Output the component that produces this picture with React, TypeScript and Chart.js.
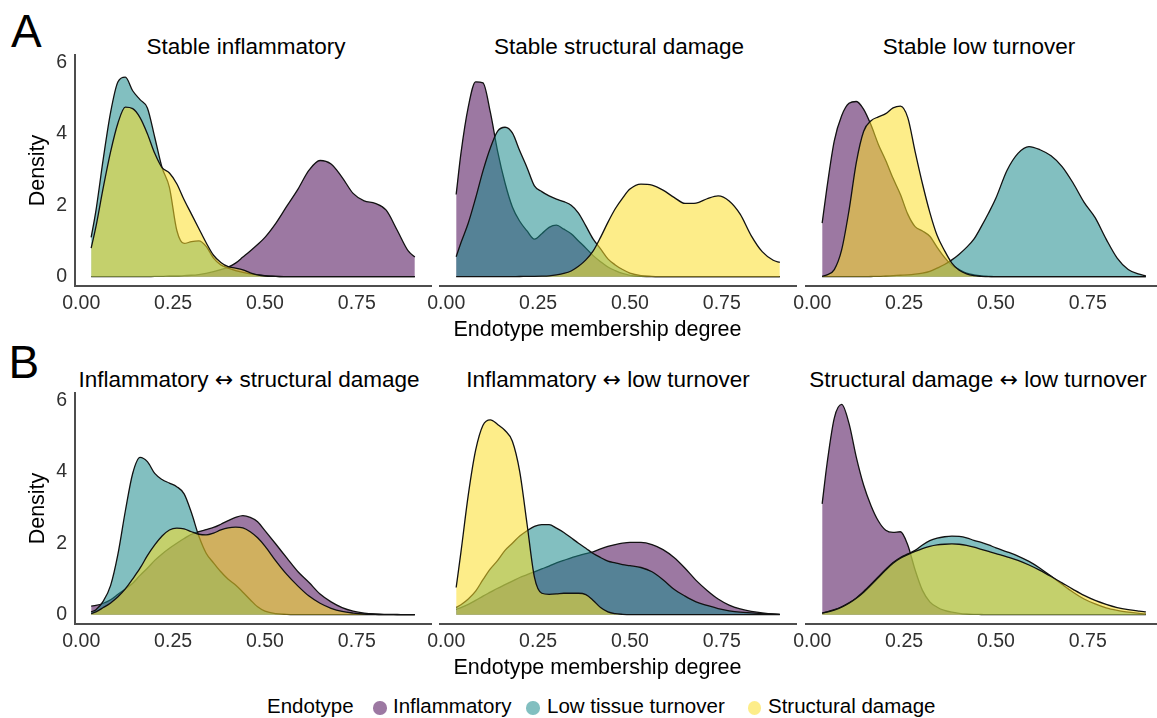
import React, { useEffect, useRef } from "react";
import { Chart, registerables } from "chart.js";

Chart.register(...registerables);

const FONT = '"Liberation Sans", Arial, Helvetica, sans-serif';
const ARROW_FONT = '"DejaVu Sans", sans-serif';

// ---------- data ----------
const X_GRID = [0.027, 0.04, 0.06, 0.08, 0.10, 0.12, 0.14, 0.16, 0.18, 0.20, 0.22, 0.24, 0.26, 0.28, 0.30, 0.32, 0.34, 0.36, 0.38, 0.40, 0.42, 0.44, 0.46, 0.48, 0.50, 0.53, 0.56, 0.59, 0.62, 0.65, 0.68, 0.71, 0.74, 0.77, 0.80, 0.83, 0.86, 0.89, 0.908];

const X_TICKS = [0, 0.25, 0.5, 0.75];
const Y_TICKS = [0, 2, 4, 6];
const X_MIN = -0.017;
const X_MAX = 0.952;
const Y_MIN = -0.26;
const Y_MAX = 6.2;

const SERIES_NAMES = ["Inflammatory", "Low tissue turnover", "Structural damage"];
const FILL_COLORS = ["rgba(74,10,86,0.55)", "rgba(28,138,140,0.55)", "rgba(252,222,40,0.55)"];

const PANEL_TITLES = [
  ["Stable inflammatory"],
  ["Stable structural damage"],
  ["Stable low turnover"],
  ["Inflammatory", "structural damage"],
  ["Inflammatory", "low turnover"],
  ["Structural damage", "low turnover"],
];

// Stable inflammatory
const SI_INFLAMMATORY = [0, 0, 0, 0, 0, 0, 0, 0, 0, 0.01, 0.01, 0.02, 0.02, 0.03, 0.04, 0.06, 0.09, 0.14, 0.2, 0.27, 0.38, 0.55, 0.72, 0.9, 1.1, 1.5, 1.98, 2.45, 2.98, 3.25, 3.15, 2.78, 2.33, 2.12, 2.05, 1.86, 1.3, 0.72, 0.55];
const SI_LOW_TURNOVER = [1.1, 1.85, 3.3, 4.6, 5.45, 5.58, 5.2, 4.95, 4.72, 3.9, 3.05, 2.5, 1.3, 0.93, 0.98, 1.0, 0.85, 0.52, 0.33, 0.24, 0.17, 0.12, 0.08, 0.05, 0.03, 0.01, 0, 0, 0, 0, 0, 0, 0, 0, 0, 0, 0, 0, 0];
const SI_STRUCTURAL = [0.8, 1.4, 2.5, 3.5, 4.3, 4.74, 4.7, 4.45, 4.0, 3.45, 3.05, 2.9, 2.6, 2.15, 1.75, 1.35, 0.95, 0.6, 0.4, 0.28, 0.24, 0.19, 0.11, 0.05, 0.02, 0.01, 0, 0, 0, 0, 0, 0, 0, 0, 0, 0, 0, 0, 0];

// Stable structural damage
const SS_INFLAMMATORY = [2.3, 3.45, 4.75, 5.45, 5.42, 4.6, 3.5, 2.62, 1.95, 1.55, 1.28, 1.05, 1.2, 1.38, 1.44, 1.33, 1.2, 1.0, 0.8, 0.59, 0.42, 0.27, 0.17, 0.09, 0.04, 0.01, 0, 0, 0, 0, 0, 0, 0, 0, 0, 0, 0, 0, 0];
const SS_LOW_TURNOVER = [0.56, 0.95, 1.5, 2.2, 2.96, 3.6, 4.07, 4.18, 4.02, 3.52, 3.05, 2.54, 2.38, 2.26, 2.17, 2.1, 2.0, 1.78, 1.42, 1.05, 0.78, 0.5, 0.33, 0.2, 0.1, 0.03, 0.01, 0, 0, 0, 0, 0, 0, 0, 0, 0, 0, 0, 0];
const SS_STRUCTURAL = [0, 0, 0, 0, 0, 0, 0, 0, 0.003, 0.005, 0.008, 0.01, 0.015, 0.025, 0.05, 0.09, 0.16, 0.29, 0.47, 0.72, 1.1, 1.52, 1.9, 2.2, 2.45, 2.59, 2.56, 2.42, 2.22, 2.05, 2.06, 2.18, 2.26, 2.12, 1.75, 1.15, 0.7, 0.46, 0.4];

// Stable low turnover
const SL_INFLAMMATORY = [1.5, 2.49, 3.8, 4.5, 4.85, 4.9, 4.68, 4.24, 3.7, 3.25, 2.75, 2.3, 1.75, 1.4, 1.28, 1.13, 0.82, 0.54, 0.32, 0.2, 0.1, 0.05, 0.02, 0.01, 0, 0, 0, 0, 0, 0, 0, 0, 0, 0, 0, 0, 0, 0, 0];
const SL_LOW_TURNOVER = [0, 0, 0, 0, 0, 0, 0, 0.005, 0.01, 0.02, 0.03, 0.04, 0.05, 0.07, 0.1, 0.15, 0.24, 0.34, 0.47, 0.63, 0.82, 1.05, 1.4, 1.78, 2.2, 2.97, 3.45, 3.64, 3.55, 3.38, 3.08, 2.62, 2.08, 1.65, 1.05, 0.52, 0.2, 0.07, 0.02];
const SL_STRUCTURAL = [0.01, 0.05, 0.2, 0.75, 1.85, 3.2, 4.07, 4.36, 4.47, 4.56, 4.72, 4.77, 4.45, 3.5, 2.6, 1.8, 1.15, 0.73, 0.38, 0.18, 0.08, 0.03, 0.01, 0, 0, 0, 0, 0, 0, 0, 0, 0, 0, 0, 0, 0, 0, 0, 0];

// Inflammatory <-> structural damage
const IS_INFLAMMATORY = [0.24, 0.26, 0.32, 0.42, 0.57, 0.72, 0.88, 1.1, 1.3, 1.52, 1.7, 1.86, 2.0, 2.13, 2.25, 2.32, 2.38, 2.44, 2.53, 2.63, 2.72, 2.77, 2.72, 2.6, 2.35, 1.97, 1.58, 1.2, 0.9, 0.58, 0.36, 0.2, 0.1, 0.045, 0.02, 0.01, 0.005, 0, 0];
const IS_LOW_TURNOVER = [0.08, 0.14, 0.38, 0.82, 1.7, 2.9, 3.95, 4.4, 4.28, 3.95, 3.78, 3.68, 3.58, 3.38, 2.85, 2.2, 1.72, 1.45, 1.2, 0.99, 0.83, 0.63, 0.42, 0.22, 0.1, 0.03, 0.01, 0, 0, 0, 0, 0, 0, 0, 0, 0, 0, 0, 0];
const IS_STRUCTURAL = [0.03, 0.08, 0.2, 0.33, 0.5, 0.72, 1.0, 1.3, 1.65, 1.95, 2.2, 2.37, 2.42, 2.4, 2.32, 2.25, 2.23, 2.28, 2.37, 2.43, 2.45, 2.43, 2.32, 2.15, 1.92, 1.5, 1.12, 0.8, 0.52, 0.32, 0.18, 0.09, 0.045, 0.02, 0.01, 0, 0, 0, 0];

// Inflammatory <-> low turnover
const IL_INFLAMMATORY = [0.15, 0.2, 0.29, 0.4, 0.52, 0.63, 0.74, 0.84, 0.94, 1.04, 1.12, 1.2, 1.28, 1.36, 1.45, 1.52, 1.59, 1.65, 1.71, 1.76, 1.84, 1.91, 1.96, 2.0, 2.02, 2.02, 1.96, 1.82, 1.6, 1.3, 0.96, 0.68, 0.44, 0.27, 0.16, 0.09, 0.05, 0.02, 0.01];
const IL_LOW_TURNOVER = [0.2, 0.28, 0.44, 0.66, 0.98, 1.28, 1.52, 1.8, 2.0, 2.2, 2.35, 2.47, 2.52, 2.52, 2.42, 2.3, 2.15, 2.0, 1.86, 1.71, 1.6, 1.5, 1.45, 1.4, 1.37, 1.32, 1.2, 0.98, 0.71, 0.52, 0.36, 0.26, 0.17, 0.11, 0.07, 0.05, 0.03, 0.015, 0.01];
const IL_STRUCTURAL = [0.76, 1.75, 3.35, 4.6, 5.3, 5.45, 5.32, 5.15, 4.85, 4.0, 2.53, 1.05, 0.6, 0.57, 0.58, 0.6, 0.6, 0.6, 0.56, 0.4, 0.2, 0.08, 0.03, 0.01, 0, 0, 0, 0, 0, 0, 0, 0, 0, 0, 0, 0, 0, 0, 0];

// Structural damage <-> low turnover
const SD_INFLAMMATORY = [3.1, 4.2, 5.5, 5.88, 5.35, 4.4, 3.62, 3.05, 2.62, 2.36, 2.3, 2.32, 1.95, 1.25, 0.68, 0.36, 0.21, 0.12, 0.07, 0.04, 0.02, 0.01, 0.005, 0, 0, 0, 0, 0, 0, 0, 0, 0, 0, 0, 0, 0, 0, 0, 0];
const SD_LOW_TURNOVER = [0.05, 0.08, 0.14, 0.22, 0.33, 0.47, 0.65, 0.85, 1.06, 1.27, 1.46, 1.6, 1.7, 1.8, 1.95, 2.07, 2.14, 2.18, 2.2, 2.19, 2.15, 2.08, 2.02, 1.95, 1.87, 1.76, 1.64, 1.49, 1.3, 1.08, 0.85, 0.63, 0.44, 0.3, 0.19, 0.12, 0.07, 0.035, 0.02];
const SD_STRUCTURAL = [0.04, 0.07, 0.13, 0.21, 0.32, 0.46, 0.63, 0.83, 1.04, 1.25, 1.44, 1.58, 1.68, 1.77, 1.85, 1.91, 1.95, 1.97, 1.98, 1.97, 1.94, 1.89, 1.83, 1.77, 1.71, 1.62, 1.52, 1.39, 1.24, 1.07, 0.89, 0.71, 0.54, 0.4, 0.29, 0.2, 0.14, 0.1, 0.08];

const PANEL_VALUES = [
  [SI_INFLAMMATORY, SI_LOW_TURNOVER, SI_STRUCTURAL],
  [SS_INFLAMMATORY, SS_LOW_TURNOVER, SS_STRUCTURAL],
  [SL_INFLAMMATORY, SL_LOW_TURNOVER, SL_STRUCTURAL],
  [IS_INFLAMMATORY, IS_LOW_TURNOVER, IS_STRUCTURAL],
  [IL_INFLAMMATORY, IL_LOW_TURNOVER, IL_STRUCTURAL],
  [SD_INFLAMMATORY, SD_LOW_TURNOVER, SD_STRUCTURAL],
];

// ---------- layout ----------
const ROW_TOP = [55, 393];
const ROW_BOTTOM = [286, 624];
const COL_LEFT = [75, 440, 806];
const PLOT_W = 356;
const PAD_T = 20;
const X_AXIS_H = 50;
const SIDE_PAD = 25;
const Y_AXIS_W = 75;

const TITLE_CENTERS = [246, 619, 979, 249, 608, 978];
const TITLE_TOPS = [36, 369];
const AXIS_TITLE_TOPS = [319, 657];

const TICK_COLOR = "#303030";
const AXIS_COLOR = "#4d4d4d";

type PanelProps = { values: number[][]; row: number; col: number };

function Panel({ values, row, col }: PanelProps) {
  const ref = useRef<HTMLCanvasElement>(null);
  const showY = col === 0;
  const plotH = ROW_BOTTOM[row] - ROW_TOP[row];
  const padL = showY ? Y_AXIS_W : SIDE_PAD;
  const left = COL_LEFT[col] - padL;
  const width = padL + PLOT_W + SIDE_PAD;
  const top = ROW_TOP[row] - PAD_T;
  const height = PAD_T + plotH + X_AXIS_H;

  useEffect(() => {
    const chart = new Chart(ref.current as HTMLCanvasElement, {
      type: "line",
      data: {
        datasets: SERIES_NAMES.map((name, i) => ({
          label: name,
          data: X_GRID.map((x, j) => ({ x, y: values[i][j] })),
          fill: "origin",
          backgroundColor: FILL_COLORS[i],
          borderColor: "#111111",
          borderWidth: 1.3,
          pointRadius: 0,
          cubicInterpolationMode: "monotone",
          order: SERIES_NAMES.length - 1 - i,
        })),
      },
      options: {
        responsive: false,
        animation: false,
        devicePixelRatio: 1,
        layout: { padding: { left: showY ? 0 : SIDE_PAD, right: SIDE_PAD, top: PAD_T, bottom: 0 } },
        plugins: {
          legend: { display: false },
          tooltip: { enabled: false },
          title: { display: false },
        },
        scales: {
          x: {
            type: "linear",
            min: X_MIN,
            max: X_MAX,
            afterBuildTicks: (s: any) => {
              s.ticks = X_TICKS.map((v) => ({ value: v }));
            },
            afterFit: (s: any) => {
              s.height = X_AXIS_H;
            },
            ticks: {
              callback: (v: any) => Number(v).toFixed(2),
              font: { family: FONT, size: 19.5 },
              color: TICK_COLOR,
              padding: 6,
              maxRotation: 0,
              autoSkip: false,
            },
            grid: { display: false, drawTicks: false },
            border: { display: true, color: AXIS_COLOR, width: 2 },
          },
          y: {
            type: "linear",
            display: showY,
            min: Y_MIN,
            max: Y_MAX,
            afterBuildTicks: (s: any) => {
              s.ticks = Y_TICKS.map((v) => ({ value: v }));
            },
            afterFit: (s: any) => {
              s.width = showY ? Y_AXIS_W : 0;
            },
            ticks: {
              callback: (v: any) => String(v),
              font: { family: FONT, size: 19.5 },
              color: TICK_COLOR,
              padding: 8,
              autoSkip: false,
            },
            title: {
              display: true,
              text: "Density",
              font: { family: FONT, size: 21.5 },
              color: "#000000",
              padding: { top: 25, bottom: 0 },
            },
            grid: { display: false, drawTicks: false },
            border: { display: true, color: AXIS_COLOR, width: 2 },
          },
        },
      } as any,
    });
    return () => chart.destroy();
  }, []);

  return (
    <canvas
      ref={ref}
      width={width}
      height={height}
      style={{ position: "absolute", left, top, width, height }}
    />
  );
}

const textBase: React.CSSProperties = {
  position: "absolute",
  fontFamily: FONT,
  whiteSpace: "nowrap",
  color: "#000",
};

export default function App() {
  const legendItems = [
    { name: SERIES_NAMES[0], dot: 380, text: 393 },
    { name: SERIES_NAMES[1], dot: 533, text: 547 },
    { name: SERIES_NAMES[2], dot: 754.5, text: 768 },
  ];
  return (
    <div
      style={{
        position: "fixed",
        left: 0,
        top: 0,
        width: 1157,
        height: 718,
        overflow: "hidden",
        background: "#ffffff",
      }}
    >
      <div style={{ ...textBase, left: 11, top: 8, fontSize: 46, lineHeight: "46px" }}>A</div>
      <div style={{ ...textBase, left: 8.6, top: 339, fontSize: 46, lineHeight: "46px" }}>B</div>

      {PANEL_TITLES.map((parts, i) => (
        <div
          key={i}
          style={{
            ...textBase,
            left: TITLE_CENTERS[i],
            top: TITLE_TOPS[Math.floor(i / 3)],
            fontSize: 22.5,
            lineHeight: "22.5px",
            transform: "translateX(-50%)",
          }}
        >
          {parts.length === 1 ? (
            parts[0]
          ) : (
            <>
              {parts[0]}{" "}
              <span style={{ fontFamily: ARROW_FONT, fontSize: 22 }}>{"\u2194"}</span>{" "}
              {parts[1]}
            </>
          )}
        </div>
      ))}

      {PANEL_VALUES.map((v, i) => (
        <Panel key={i} values={v} row={Math.floor(i / 3)} col={i % 3} />
      ))}

      {AXIS_TITLE_TOPS.map((t, i) => (
        <div
          key={i}
          style={{
            ...textBase,
            left: 597.5,
            top: t,
            fontSize: 21.5,
            lineHeight: "21.5px",
            transform: "translateX(-50%)",
          }}
        >
          Endotype membership degree
        </div>
      ))}

      <div style={{ ...textBase, left: 267, top: 696, fontSize: 20.5, lineHeight: "20.5px" }}>Endotype</div>
      {legendItems.map((it, i) => (
        <React.Fragment key={it.name}>
          <div
            style={{
              position: "absolute",
              left: it.dot - 6.7,
              top: 708 - 6.7,
              width: 13.4,
              height: 13.4,
              borderRadius: "50%",
              background: FILL_COLORS[i],
            }}
          />
          <div style={{ ...textBase, left: it.text, top: 696, fontSize: 20.5, lineHeight: "20.5px" }}>{it.name}</div>
        </React.Fragment>
      ))}
    </div>
  );
}
